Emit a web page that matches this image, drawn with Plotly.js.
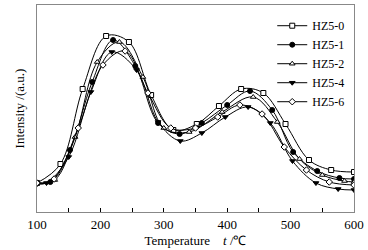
<!DOCTYPE html>
<html><head><meta charset="utf-8">
<script src="https://cdn.plot.ly/plotly-3.0.1.min.js"></script>
<style>html,body{margin:0;padding:0;background:#fff}#c{width:368px;height:250px}</style>
</head><body><div id="c"></div>
<script>
var names = ["HZ5-0","HZ5-1","HZ5-2","HZ5-4","HZ5-6"];
var T0 = [100,137,172,209,245,280,315,352,387,422,457,492,529,564,600];
var h0 = [29,48,123,176,170,117,82,88,106,123,119,88,52,42,40];
var T1 = [100,121,152,187,220,255,291,325,360,400,436,471,504,542,577,600];
var h1 = [29,30,62,130,172,146,89,78,89,107,121,102,60,41,34,33];
var T2 = [100,128,160,195,230,267,300,340,392,441,479,514,550,585,600];
var h2 = [29,32,75,150,170,135,84,80,100,115,90,53,37,31,30];
var T4 = [100,115,150,185,218,257,291,326,360,397,433,468,503,540,575,600];
var h4 = [28,29,55,120,160,142,90,71,79,95,105,89,51,29,23,22];
var T6 = [100,127,165,204,239,275,311,350,385,420,455,490,525,561,600];
var h6 = [29,33,84,147,161,119,84,84,95,107,98,65,42,30,27];
var xTicks = [100,200,300,400,500,600];

var Ts = [T0,T1,T2,T4,T6];
var Hs = [h0,h1,h2,h4,h6];
var syms = ["square","circle","triangle-up","triangle-down","diamond"];
var fills = ["#fff","#000","#fff","#000","#fff"];
var traces = names.map(function(n,i){
  return {x:Ts[i], y:Hs[i], name:n, type:"scatter", mode:"lines+markers",
    line:{color:"#000", width:1, shape:"spline", smoothing:1},
    marker:{symbol:syms[i], size:5, color:fills[i], line:{color:"#000", width:1}}};
});
var serif = "Liberation Serif, Times New Roman, serif";
var layout = {
  width:368, height:250,
  margin:{l:37, r:14, t:5, b:38},
  paper_bgcolor:"#fff", plot_bgcolor:"#fff",
  font:{family:serif, size:13, color:"#000"},
  showlegend:true,
  legend:{x:0.985, xanchor:"right", y:0.97, yanchor:"top", bgcolor:"rgba(0,0,0,0)",
    font:{family:serif, size:12, color:"#000"}},
  xaxis:{range:[100,600], tickvals:xTicks, ticktext:xTicks.map(String), ticks:"inside", ticklen:4,
    tickcolor:"#000", showline:true, mirror:true, linecolor:"#888", linewidth:1,
    showgrid:false, zeroline:false,
    minor:{dtick:50, tick0:100, ticks:"inside", ticklen:4, tickcolor:"#000", showgrid:false},
    tickfont:{family:serif, size:13, color:"#000"},
    title:{text:"Temperature &nbsp;&nbsp;&nbsp;<i>t</i> /℃", font:{family:serif, size:13, color:"#000"}, standoff:5}},
  yaxis:{range:[0,207], showticklabels:false, ticks:"", showline:true, mirror:true,
    linecolor:"#888", linewidth:1, showgrid:false, zeroline:false,
    title:{text:"Intensity /(a.u.)", font:{family:serif, size:13, color:"#000"}, standoff:8}}
};
Plotly.newPlot("c", traces, layout, {staticPlot:true, displayModeBar:false});
</script></body></html>
